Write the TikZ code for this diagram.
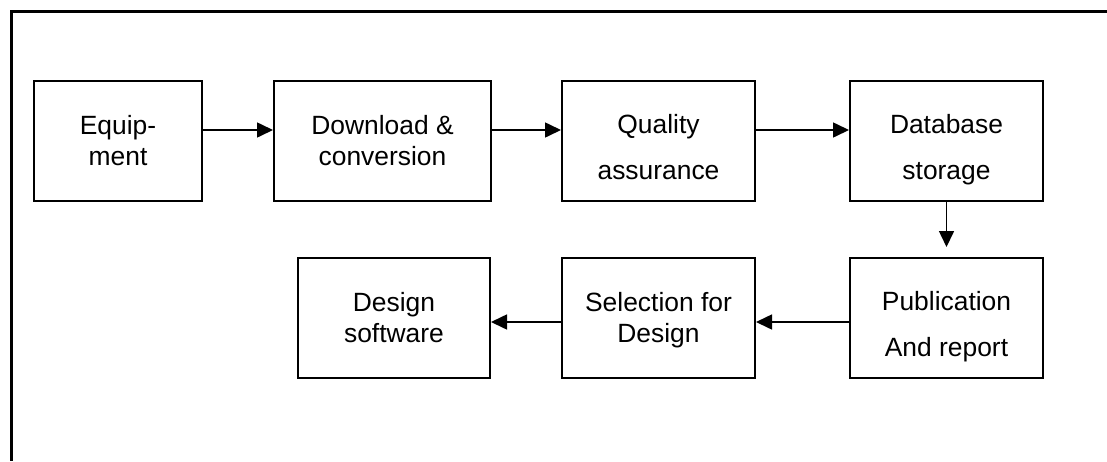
\documentclass[tikz,border=0pt]{standalone}
\usepackage{fontspec}
\setmainfont{Liberation Sans}
\usetikzlibrary{arrows.meta}

\begin{document}
\begin{tikzpicture}[x=0.5pt, y=-0.5pt,
			 bloque/.style={rectangle, draw, line width=1pt, minimum height=60pt, inner sep=0pt, align=center, text height=24pt, text depth=0pt, font=\fontsize{13.2}{15.5}\selectfont},
			 holgado/.style={text height=38pt, font=\fontsize{13.2}{23}\selectfont},
			 flecha/.style={-{Triangle[length=8pt,width=7.5pt]}, line width=0.8pt}
  		]
	\useasboundingbox (0,0) rectangle (1107,461);

	%Marco
		\draw[line width=1.5pt] (1107,11) -- (11,11) -- (11,461);

	%Primera fila
		\node[bloque, minimum width=84pt] (equipo) at (118,141) {Equip-\\ment};
		\node[bloque, minimum width=108.5pt] (descarga) at (382.5,141) {Download \&\\conversion};
		\node[bloque, holgado, minimum width=96.5pt] (calidad) at (658.5,141) {Quality\\assurance};
		\node[bloque, holgado, minimum width=96.5pt] (basedatos) at (946.5,141) {Database\\storage};
	%Segunda fila
		\node[bloque, holgado, minimum width=96.5pt] (publicacion) at (946.5,318) {Publication\\And report};
		\node[bloque, minimum width=96.5pt] (seleccion) at (658.5,318) {Selection for\\Design};
		\node[bloque, minimum width=96pt] (diseno) at (394,318) {Design\\software};

	%Flechas primera fila
		\draw[flecha] ([yshift=5.5pt]equipo.east) -- ([yshift=5.5pt]descarga.west);
		\draw[flecha] ([yshift=5.5pt]descarga.east) -- ([yshift=5.5pt]calidad.west);
		\draw[flecha] ([yshift=5.5pt]calidad.east) -- ([yshift=5.5pt]basedatos.west);
	%Bajada
		\draw[flecha, shorten >=5pt] (basedatos.south) -- (publicacion.north);
	%Flechas segunda fila
		\draw[flecha] ([yshift=-2pt]publicacion.west) -- ([yshift=-2pt]seleccion.east);
		\draw[flecha] ([yshift=-2pt]seleccion.west) -- ([yshift=-2pt]diseno.east);
	\end{tikzpicture}
\end{document}
